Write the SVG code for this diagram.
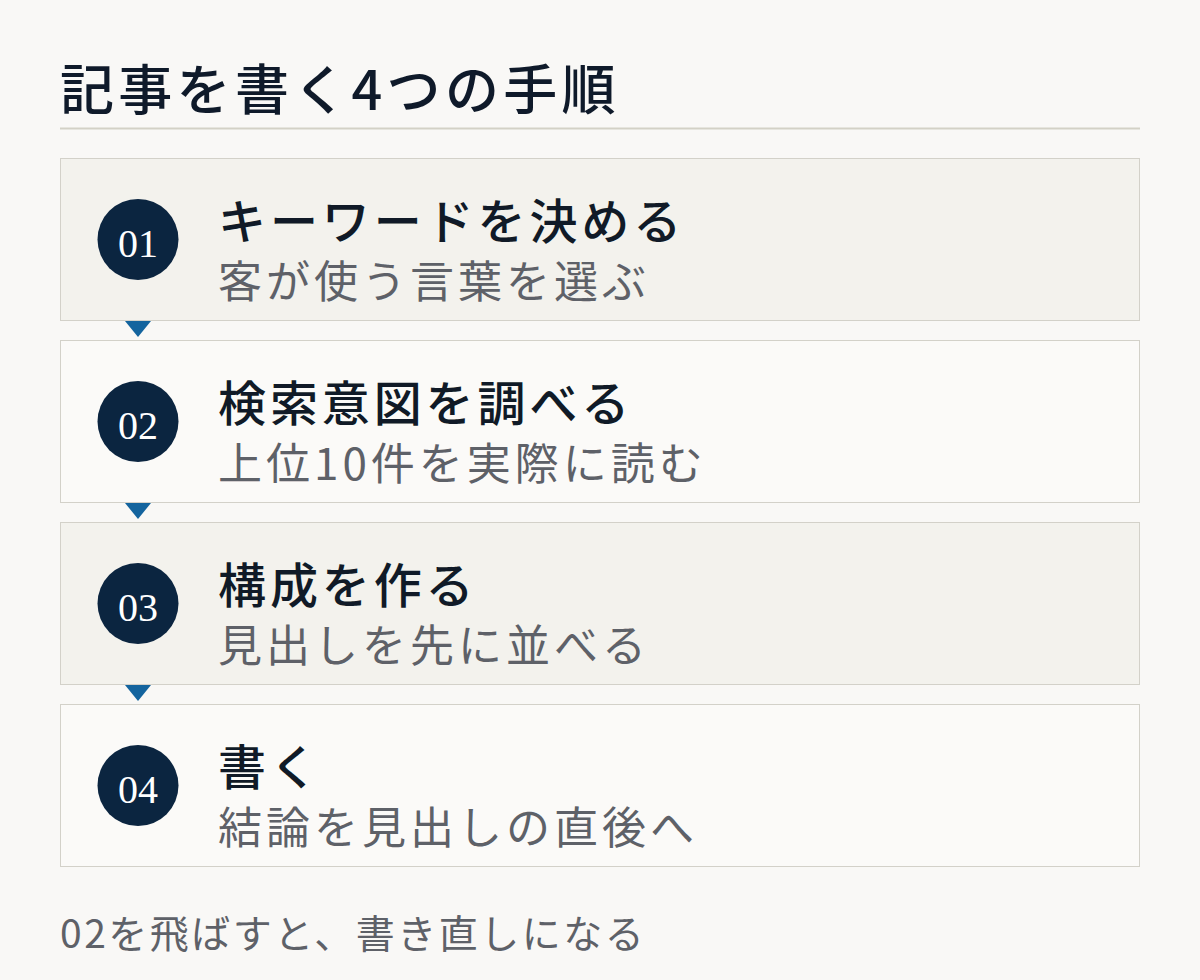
<svg xmlns="http://www.w3.org/2000/svg" width="1200" height="980" viewBox="0 0 1200 980">
<style>
.bg{fill:#f9f8f6}
.box{stroke:#d3d1c9;stroke-width:1}
.alt{fill:#f3f2ed}
.plain{fill:#fbfaf8}
.title{font-family:"Noto Sans CJK JP","Noto Sans",sans-serif;font-size:54px;font-weight:500;fill:#0f1a2a;letter-spacing:4.3px}
.head{font-family:"Noto Sans CJK JP","Noto Sans",sans-serif;font-size:48px;font-weight:500;fill:#101a27;letter-spacing:3.9px}
.sub{font-family:"Noto Sans CJK JP","Noto Sans",sans-serif;font-size:44px;font-weight:400;fill:#5e6168;letter-spacing:4px}
.note{font-family:"Noto Sans CJK JP","Noto Sans",sans-serif;font-size:39px;font-weight:400;fill:#5e6168;letter-spacing:2.5px}
.badge{fill:#0b2540}
.num{font-family:"Liberation Serif","DejaVu Serif",serif;font-size:40px;fill:#ffffff;text-anchor:middle}
.tri{fill:#14649e}
</style>
<rect class="bg" x="0" y="0" width="1200" height="980"/>
<text class="title" x="60" y="110">記事を書く4つの手順</text>
<line x1="60" y1="128.5" x2="1140" y2="128.5" stroke="#d3d1c6" stroke-width="2"/>

<g id="step1">
<rect class="box alt" x="60.5" y="158.5" width="1079" height="162"/>
<circle class="badge" cx="138" cy="239.5" r="40.5"/>
<text class="num" x="138" y="257">01</text>
<text class="head" x="218" y="239">キーワードを決める</text>
<text class="sub" x="218" y="298">客が使う言葉を選ぶ</text>
</g>
<g id="step2">
<rect class="box plain" x="60.5" y="340.5" width="1079" height="162"/>
<circle class="badge" cx="138" cy="421.5" r="40.5"/>
<text class="num" x="138" y="439">02</text>
<text class="head" x="218" y="421">検索意図を調べる</text>
<text class="sub" x="218" y="480">上位10件を実際に読む</text>
</g>
<g id="step3">
<rect class="box alt" x="60.5" y="522.5" width="1079" height="162"/>
<circle class="badge" cx="138" cy="603.5" r="40.5"/>
<text class="num" x="138" y="621">03</text>
<text class="head" x="218" y="603">構成を作る</text>
<text class="sub" x="218" y="662">見出しを先に並べる</text>
</g>
<g id="step4">
<rect class="box plain" x="60.5" y="704.5" width="1079" height="162"/>
<circle class="badge" cx="138" cy="785.5" r="40.5"/>
<text class="num" x="138" y="803">04</text>
<text class="head" x="218" y="785">書く</text>
<text class="sub" x="218" y="844">結論を見出しの直後へ</text>
</g>

<g id="connectors">
<polygon class="tri" points="125,321 151,321 138,337"/>
<polygon class="tri" points="125,503 151,503 138,519"/>
<polygon class="tri" points="125,685 151,685 138,701"/>
</g>

<text class="note" x="60" y="948">02を飛ばすと、書き直しになる</text>
</svg>
